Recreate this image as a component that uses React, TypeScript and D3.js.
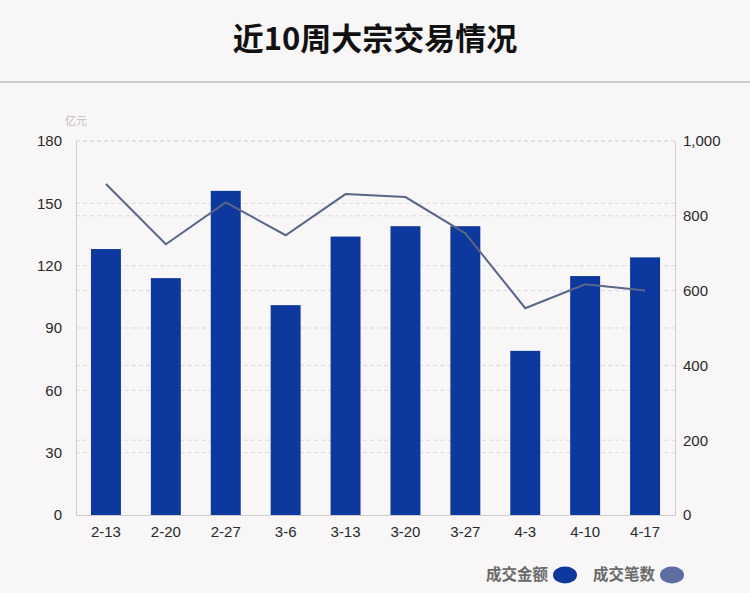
import { useEffect, useRef } from "react";
import * as d3 from "d3";

const weeks = ["2-13", "2-20", "2-27", "3-6", "3-13", "3-20", "3-27", "4-3", "4-10", "4-17"];
// 成交金额 (亿元)
const amount = [128, 114, 156, 101, 134, 139, 139, 79, 115, 124];
// 成交笔数
const deals = [885, 724, 836, 748, 858, 850, 753, 553, 617, 600];
const leftTicks = [0, 30, 60, 90, 120, 150, 180];
const rightTicks = [0, 200, 400, 600, 800, 1000];

const W = 750;
const H = 593;

export default function App() {
  const ref = useRef<SVGSVGElement>(null);

  useEffect(() => {
    const svg = d3.select(ref.current);
    svg.selectAll("*").remove();

    const margin = { top: 141, right: 75, bottom: 78, left: 76 };
    const innerW = W - margin.left - margin.right;
    const innerH = H - margin.top - margin.bottom;

    svg.append("rect").attr("width", W).attr("height", H).attr("fill", "#f8f6f7");

    // title
    svg
      .append("text")
      .attr("x", W / 2)
      .attr("y", 50)
      .attr("text-anchor", "middle")
      .attr("font-family", "'Noto Sans CJK SC', sans-serif")
      .attr("font-weight", 700)
      .attr("font-size", 31)
      .attr("fill", "#111")
      .text("近10周大宗交易情况");

    svg
      .append("line")
      .attr("x1", 0)
      .attr("x2", W)
      .attr("y1", 82)
      .attr("y2", 82)
      .attr("stroke", "#bdbbbc")
      .attr("stroke-width", 1.5);

    const x = d3.scaleBand().domain(weeks).range([0, innerW]).paddingInner(0.5).paddingOuter(0.25);
    const yL = d3.scaleLinear().domain([0, 180]).range([innerH, 0]);
    const yR = d3.scaleLinear().domain([0, 1000]).range([innerH, 0]);

    const g = svg.append("g").attr("transform", `translate(${margin.left},${margin.top})`);

    // grid lines for both axes
    const grid = [...leftTicks.map((t) => yL(t)), ...rightTicks.map((t) => yR(t))];
    g.selectAll(".grid")
      .data(grid.filter((v) => v < innerH - 1))
      .join("line")
      .attr("x1", 0)
      .attr("x2", innerW)
      .attr("y1", (d) => d)
      .attr("y2", (d) => d)
      .attr("stroke", "#dedbdc")
      .attr("stroke-dasharray", "4,3");

    // axes
    const tickFont = "'Liberation Sans', Arial, sans-serif";
    const left = g.append("g").call(d3.axisLeft(yL).tickValues(leftTicks).tickSize(0).tickPadding(14));
    const right = g
      .append("g")
      .attr("transform", `translate(${innerW},0)`)
      .call(
        d3
          .axisRight(yR)
          .tickValues(rightTicks)
          .tickSize(0)
          .tickPadding(8)
          .tickFormat(d3.format(","))
      );
    const bottom = g
      .append("g")
      .attr("transform", `translate(0,${innerH})`)
      .call(d3.axisBottom(x).tickSize(0).tickPadding(8));

    [left, right, bottom].forEach((a) => {
      a.select(".domain").attr("stroke", "#cfcccd");
      a.selectAll("text").attr("font-family", tickFont).attr("font-size", 15).attr("fill", "#2a2a2a");
    });
    bottom.selectAll("text").attr("dy", "0.9em");

    svg
      .append("text")
      .attr("x", margin.left)
      .attr("y", 125)
      .attr("text-anchor", "middle")
      .attr("font-family", "'Noto Sans CJK SC', sans-serif")
      .attr("font-size", 11)
      .attr("fill", "#bdbbbc")
      .text("亿元");

    // bars
    g.selectAll(".bar")
      .data(amount)
      .join("rect")
      .attr("x", (_, i) => x(weeks[i])!)
      .attr("y", (d) => yL(d))
      .attr("width", x.bandwidth())
      .attr("height", (d) => innerH - yL(d))
      .attr("fill", "#0d389e");

    // line
    const line = d3
      .line<number>()
      .x((_, i) => x(weeks[i])! + x.bandwidth() / 2)
      .y((d) => yR(d));
    g.append("path")
      .datum(deals)
      .attr("d", line)
      .attr("fill", "none")
      .attr("stroke", "#5a6688")
      .attr("stroke-width", 2);

    // legend
    const legend = [
      { label: "成交金额", color: "#0d389e", x: 548 },
      { label: "成交笔数", color: "#5a6fa0", x: 655 },
    ];
    const lg = svg.append("g");
    legend.forEach((l) => {
      lg.append("text")
        .attr("x", l.x)
        .attr("y", 580)
        .attr("text-anchor", "end")
        .attr("font-family", "'Noto Sans CJK SC', sans-serif")
        .attr("font-weight", 700)
        .attr("font-size", 15.5)
        .attr("fill", "#6a6a6a")
        .text(l.label);
      lg.append("ellipse")
        .attr("cx", l.x + 17)
        .attr("cy", 575)
        .attr("rx", 12)
        .attr("ry", 8.5)
        .attr("fill", l.color);
    });
  }, []);

  return (
    <div style={{ position: "fixed", left: 0, top: 0 }}>
      <svg ref={ref} width={W} height={H} style={{ display: "block" }} />
    </div>
  );
}
